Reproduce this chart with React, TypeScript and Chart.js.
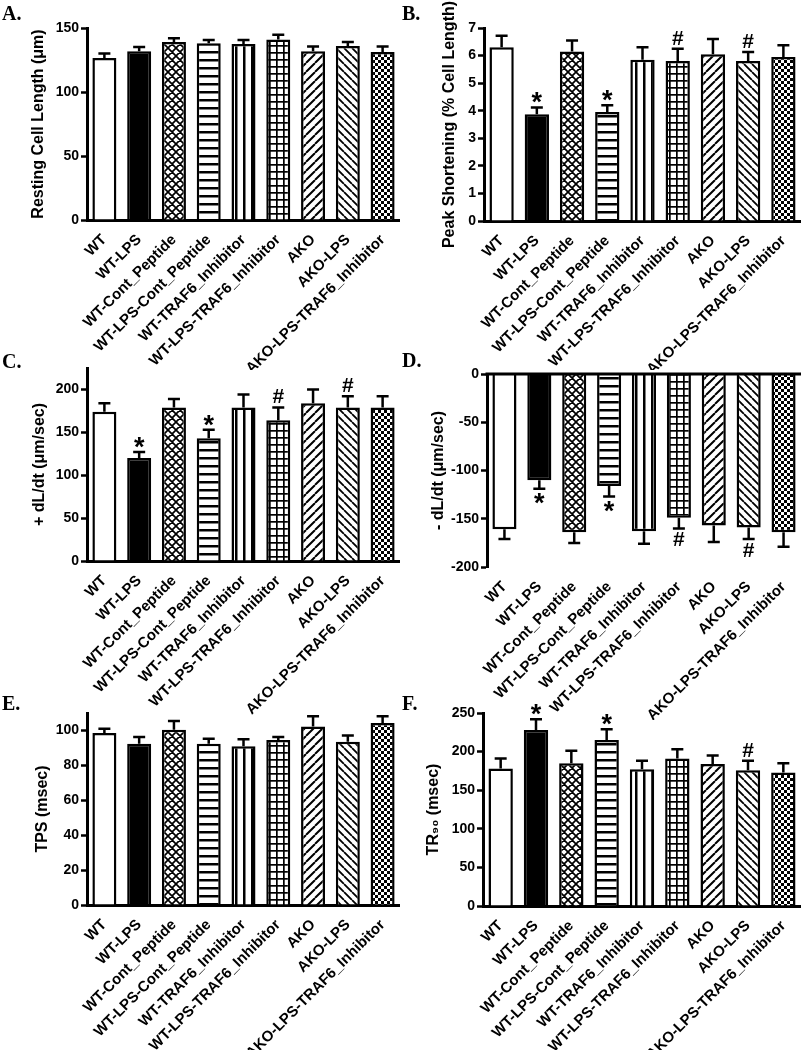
import React, { useEffect, useRef } from 'react';
import { Chart, registerables } from 'chart.js';

Chart.register(...registerables);

const FONT = "'Liberation Sans', Arial, Helvetica, sans-serif";
const SERIF = "'Liberation Serif', 'Times New Roman', Times, serif";

const categories = [
  'WT',
  'WT-LPS',
  'WT-Cont_Peptide',
  'WT-LPS-Cont_Peptide',
  'WT-TRAF6_Inhibitor',
  'WT-LPS-TRAF6_Inhibitor',
  'AKO',
  'AKO-LPS',
  'AKO-LPS-TRAF6_Inhibitor',
];

const fillKinds = ['open', 'solid', 'crosshatch', 'hlines', 'vlines', 'grid', 'fdiag', 'bdiag', 'checker'];

// A. Resting cell length (µm)
const restingLength = [126.6, 131.8, 139, 138, 137.5, 141, 131.8, 136, 131.3];
const restingLengthErr = [3.4, 3.3, 3, 2.7, 3.2, 3.8, 3.7, 3, 4.2];
const marksA = ['', '', '', '', '', '', '', '', ''];
const ticksA = [0, 50, 100, 150];

// B. Peak shortening (% cell length)
const peakShortening = [6.3, 3.87, 6.15, 3.95, 5.85, 5.8, 6.05, 5.8, 5.95];
const peakShorteningErr = [0.42, 0.25, 0.4, 0.25, 0.45, 0.45, 0.55, 0.33, 0.42];
const marksB = ['', '*', '', '*', '', '#', '', '#', ''];
const ticksB = [0, 1, 2, 3, 4, 5, 6, 7];

// C. +dL/dt (µm/sec)
const plusDLdt = [174, 120, 179, 143, 179, 164, 184, 179, 179];
const plusDLdtErr = [10, 7, 10, 10, 15, 15, 16, 13, 13];
const marksC = ['', '*', '', '*', '', '#', '', '#', ''];
const ticksC = [0, 50, 100, 150, 200];

// D. -dL/dt (µm/sec)
const minusDLdt = [-161, -110, -164, -116, -163, -149, -157, -159, -164];
const minusDLdtErr = [10, 9, 11, 11, 13, 11, 17, 12, 15];
const marksD = ['', '*', '', '*', '', '#', '', '#', ''];
const ticksD = [-200, -150, -100, -50, 0];

// E. TPS (msec)
const tps = [98.5, 92.4, 100.4, 92.4, 91, 94.5, 102.3, 93.5, 104.3];
const tpsErr = [2.5, 3.8, 5, 2.8, 4, 1.8, 5.8, 3.6, 3.8];
const marksE = ['', '', '', '', '', '', '', '', ''];
const ticksE = [0, 20, 40, 60, 80, 100];

// F. TR90 (msec)
const tr90 = [178, 228, 185, 215, 177, 191, 184, 176, 173];
const tr90Err = [13, 14, 16, 14, 11, 12, 11, 12, 12];
const marksF = ['', '*', '', '*', '', '', '', '#', ''];
const ticksF = [0, 50, 100, 150, 200, 250];

const panels: any[] = [
  { letter: 'A.', title: 'Resting Cell Length (\u03bcm)', values: restingLength, errors: restingLengthErr, marks: marksA, ticks: ticksA, min: 0, max: 150,
    left: 0, top: 0, w: 400, h: 370, yWidth: 87, padTop: 28, xHeight: 150, titlePad: 28.7, zeroLine: false, lx: 2, ly: 3 },
  { letter: 'B.', title: 'Peak Shortening (% Cell Length)', values: peakShortening, errors: peakShorteningErr, marks: marksB, ticks: ticksB, min: 0, max: 7,
    left: 400, top: 0, w: 401, h: 370, yWidth: 84, padTop: 28, xHeight: 149, titlePad: 40.4, zeroLine: false, lx: 402, ly: 3 },
  { letter: 'C.', title: '+ dL/dt (\u03bcm/sec)', values: plusDLdt, errors: plusDLdtErr, marks: marksC, ticks: ticksC, min: 0, max: 225,
    left: 0, top: 350, w: 400, h: 370, yWidth: 87, padTop: 18, xHeight: 159, titlePad: 30.4, zeroLine: false, lx: 2, ly: 351 },
  { letter: 'D.', title: '- dL/dt (\u03bcm/sec)', values: minusDLdt, errors: minusDLdtErr, marks: marksD, ticks: ticksD, min: -200, max: 0,
    left: 400, top: 350, w: 401, h: 370, yWidth: 87, padTop: 24, xHeight: 153, titlePad: 29.4, zeroLine: true, lx: 402, ly: 350 },
  { letter: 'E.', title: 'TPS (msec)', values: tps, errors: tpsErr, marks: marksE, ticks: ticksE, min: 0, max: 110,
    left: 0, top: 700, w: 400, h: 350, yWidth: 87, padTop: 13, xHeight: 145, titlePad: 33.4, zeroLine: false, lx: 2, ly: 693 },
  { letter: 'F.', title: 'TR\u2089\u2080 (msec)', values: tr90, errors: tr90Err, marks: marksF, ticks: ticksF, min: 0, max: 250,
    left: 400, top: 700, w: 401, h: 350, yWidth: 83, padTop: 13, xHeight: 144, titlePad: 24.4, zeroLine: false, lx: 402, ly: 693 },
];

function makeTile(size: number, draw: (g: CanvasRenderingContext2D, s: number) => void) {
  const c = document.createElement('canvas');
  c.width = size;
  c.height = size;
  const g = c.getContext('2d')!;
  g.fillStyle = '#fff';
  g.fillRect(0, 0, size, size);
  g.fillStyle = '#000';
  g.strokeStyle = '#000';
  draw(g, size);
  return c;
}

function makeFill(ctx: CanvasRenderingContext2D, kind: string): any {
  let tile: HTMLCanvasElement | null = null;
  switch (kind) {
    case 'open':
      return '#ffffff';
    case 'solid':
      return '#000000';
    case 'crosshatch':
      tile = makeTile(8, (g, s) => {
        g.lineWidth = 1.7;
        g.beginPath();
        for (const dx of [-s, 0, s]) {
          g.moveTo(dx, 0); g.lineTo(dx + s, s);
          g.moveTo(dx, s); g.lineTo(dx + s, 0);
        }
        g.stroke();
      });
      break;
    case 'hlines':
      tile = makeTile(8, (g, s) => { g.fillRect(0, 3, s, 2.5); });
      break;
    case 'vlines':
      tile = makeTile(8, (g, s) => { g.fillRect(3, 0, 2.5, s); });
      break;
    case 'grid':
      tile = makeTile(7, (g, s) => { g.fillRect(0, 3, s, 1.7); g.fillRect(3, 0, 1.7, s); });
      break;
    case 'fdiag':
      tile = makeTile(9, (g, s) => {
        g.lineWidth = 2;
        g.beginPath();
        for (const dx of [-s, 0, s]) { g.moveTo(dx, s); g.lineTo(dx + s, 0); }
        g.stroke();
      });
      break;
    case 'bdiag':
      tile = makeTile(8, (g, s) => {
        g.lineWidth = 1.8;
        g.beginPath();
        for (const dx of [-s, 0, s]) { g.moveTo(dx, 0); g.lineTo(dx + s, s); }
        g.stroke();
      });
      break;
    case 'checker':
      tile = makeTile(6, (g) => { g.fillRect(0, 0, 3, 3); g.fillRect(3, 3, 3, 3); });
      break;
  }
  return tile ? ctx.createPattern(tile, 'repeat') : '#fff';
}

function makeOverlay(p: any) {
  return {
    id: 'errorBarsAndMarks',
    afterDatasetsDraw(chart: any) {
      const ctx: CanvasRenderingContext2D = chart.ctx;
      const yScale = chart.scales.y;
      const meta = chart.getDatasetMeta(0);
      ctx.save();
      ctx.strokeStyle = '#000';
      ctx.fillStyle = '#000';
      ctx.lineWidth = 2.5;
      p.values.forEach((v: number, i: number) => {
        const bar = meta.data[i];
        if (!bar) return;
        const x = bar.x;
        const s = v < 0 ? -1 : 1;
        const y1 = yScale.getPixelForValue(v);
        const y2 = yScale.getPixelForValue(v + s * p.errors[i]);
        ctx.beginPath();
        ctx.moveTo(x, y1);
        ctx.lineTo(x, y2);
        ctx.moveTo(x - 6, y2);
        ctx.lineTo(x + 6, y2);
        ctx.stroke();
        const sym = p.marks[i];
        if (sym) {
          ctx.font = sym === '*' ? `bold 27px ${FONT}` : `bold 21px ${FONT}`;
          const m = ctx.measureText(sym);
          const asc = m.actualBoundingBoxAscent;
          const desc = m.actualBoundingBoxDescent;
          const half = (asc + desc) / 2;
          const yc = y2 - s * (4 + half);
          ctx.textAlign = 'center';
          ctx.textBaseline = 'alphabetic';
          ctx.fillText(sym, x, yc + (asc - desc) / 2);
        }
      });
      if (p.zeroLine) {
        const y0 = yScale.getPixelForValue(0);
        ctx.lineWidth = 3;
        ctx.beginPath();
        ctx.moveTo(chart.chartArea.left - 1.5, y0);
        ctx.lineTo(chart.chartArea.right, y0);
        ctx.stroke();
      }
      ctx.restore();
    },
  };
}

function Panel({ p }: { p: any }) {
  const ref = useRef<HTMLCanvasElement>(null);
  useEffect(() => {
    const canvas = ref.current!;
    const ctx = canvas.getContext('2d')!;
    const fills = fillKinds.map((k) => makeFill(ctx, k));
    const chart = new Chart(ctx, {
      type: 'bar',
      data: {
        labels: categories,
        datasets: [
          {
            data: p.values,
            backgroundColor: fills,
            borderColor: '#000',
            borderWidth: 2.5,
            borderSkipped: 'start',
            barPercentage: 0.69,
            categoryPercentage: 1,
          } as any,
        ],
      },
      options: {
        responsive: false,
        animation: false,
        events: [],
        layout: { padding: { top: p.padTop, left: 0, right: 0, bottom: 0 } },
        plugins: { legend: { display: false }, tooltip: { enabled: false } },
        scales: {
          x: {
            grid: { display: false },
            border: { display: !p.zeroLine, width: 3, color: '#000' },
            ticks: {
              color: '#000',
              font: { family: FONT, size: 15, weight: 'bold' },
              maxRotation: 45,
              minRotation: 45,
              autoSkip: false,
              padding: 3,
            },
            afterFit: (s: any) => { s.height = p.xHeight; },
          },
          y: {
            min: p.min,
            max: p.max,
            afterBuildTicks: (s: any) => { s.ticks = p.ticks.map((v: number) => ({ value: v })); },
            grid: { drawOnChartArea: false, drawTicks: true, tickLength: 6, tickWidth: 2.5, tickColor: '#000', color: '#000' },
            border: { display: true, width: 3, color: '#000' },
            ticks: { color: '#000', font: { family: FONT, size: 14, weight: 'bold' }, padding: 2 },
            title: {
              display: true,
              text: p.title,
              color: '#000',
              font: { family: FONT, size: 16, weight: 'bold' },
              padding: { top: p.titlePad, bottom: 0 },
            },
            afterFit: (s: any) => { s.width = p.yWidth; },
          },
        } as any,
      },
      plugins: [makeOverlay(p)],
    } as any);
    return () => chart.destroy();
  }, [p]);
  return (
    <canvas
      ref={ref}
      width={p.w}
      height={p.h}
      style={{ position: 'absolute', left: p.left, top: p.top, width: p.w, height: p.h }}
    />
  );
}

export default function App() {
  return (
    <div style={{ position: 'absolute', left: 0, top: 0, width: 801, height: 1050, background: '#fff', overflow: 'hidden' }}>
      {panels.map((p) => (
        <Panel key={p.letter} p={p} />
      ))}
      {panels.map((p) => (
        <div
          key={'l' + p.letter}
          style={{
            position: 'absolute',
            left: p.lx,
            top: p.ly,
            fontFamily: SERIF,
            fontWeight: 'bold',
            fontSize: 20,
            lineHeight: '20px',
            color: '#000',
          }}
        >
          {p.letter}
        </div>
      ))}
    </div>
  );
}
